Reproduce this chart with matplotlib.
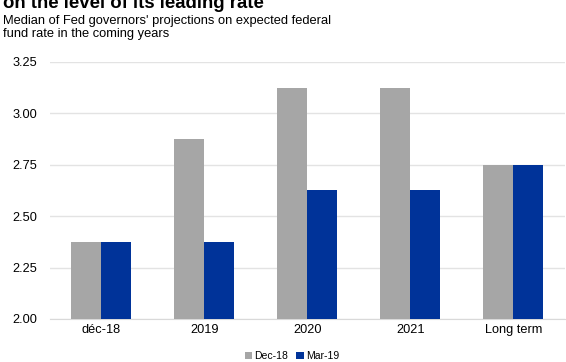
import matplotlib.pyplot as plt
import numpy as np

plt.rcParams['font.family'] = ['Liberation Sans', 'DejaVu Sans']

categories = ['déc-18', '2019', '2020', '2021', 'Long term']
dec18 = [2.375, 2.875, 3.125, 3.125, 2.75]
mar19 = [2.375, 2.375, 2.625, 2.625, 2.75]
series_names = ['Dec-18', 'Mar-19']
yticks = [2.00, 2.25, 2.50, 2.75, 3.00, 3.25]

fig = plt.figure(figsize=(5.66, 3.62), dpi=100)
ax = fig.add_axes([0.088, 0.119, 0.91, 0.71])

x = np.arange(len(categories))
w = 0.29
ax.bar(x - w/2, dec18, w, color='#a6a6a6', label=series_names[0], zorder=3)
ax.bar(x + w/2, mar19, w, color='#003399', label=series_names[1], zorder=3)

ax.set_ylim(2.0, 3.25)
ax.set_xlim(-0.5, len(categories) - 0.5)
ax.set_yticks(yticks)
ax.set_yticklabels([f'{v:.2f}' for v in yticks], fontsize=9.2)
ax.set_xticks(x)
ax.set_xticklabels(categories, fontsize=9.2)
ax.tick_params(axis='x', length=0, pad=4)
ax.tick_params(axis='y', length=0, pad=9)
ax.yaxis.grid(True, color='#e3e3e3', linewidth=1, zorder=0)
for s in ['top', 'right', 'left']:
    ax.spines[s].set_visible(False)
ax.spines['bottom'].set_color('#d9d9d9')

# title line is clipped at the top edge, as in the original
fig.text(0.005, 1.014, 'on the level of its leading rate', fontsize=13.4,
         fontweight='bold', va='top', ha='left')
fig.text(0.005, 0.958, "Median of Fed governors' projections on expected federal\nfund rate in the coming years",
         fontsize=9.3, va='top', ha='left', linespacing=1.12)

ax.legend(loc='lower center', bbox_to_anchor=(0.47, -0.2), ncol=2, frameon=False,
          fontsize=7.5, handlelength=0.7, handleheight=0.7, handletextpad=0.2,
          columnspacing=0.8)

fig.savefig('out.png', dpi=100)
